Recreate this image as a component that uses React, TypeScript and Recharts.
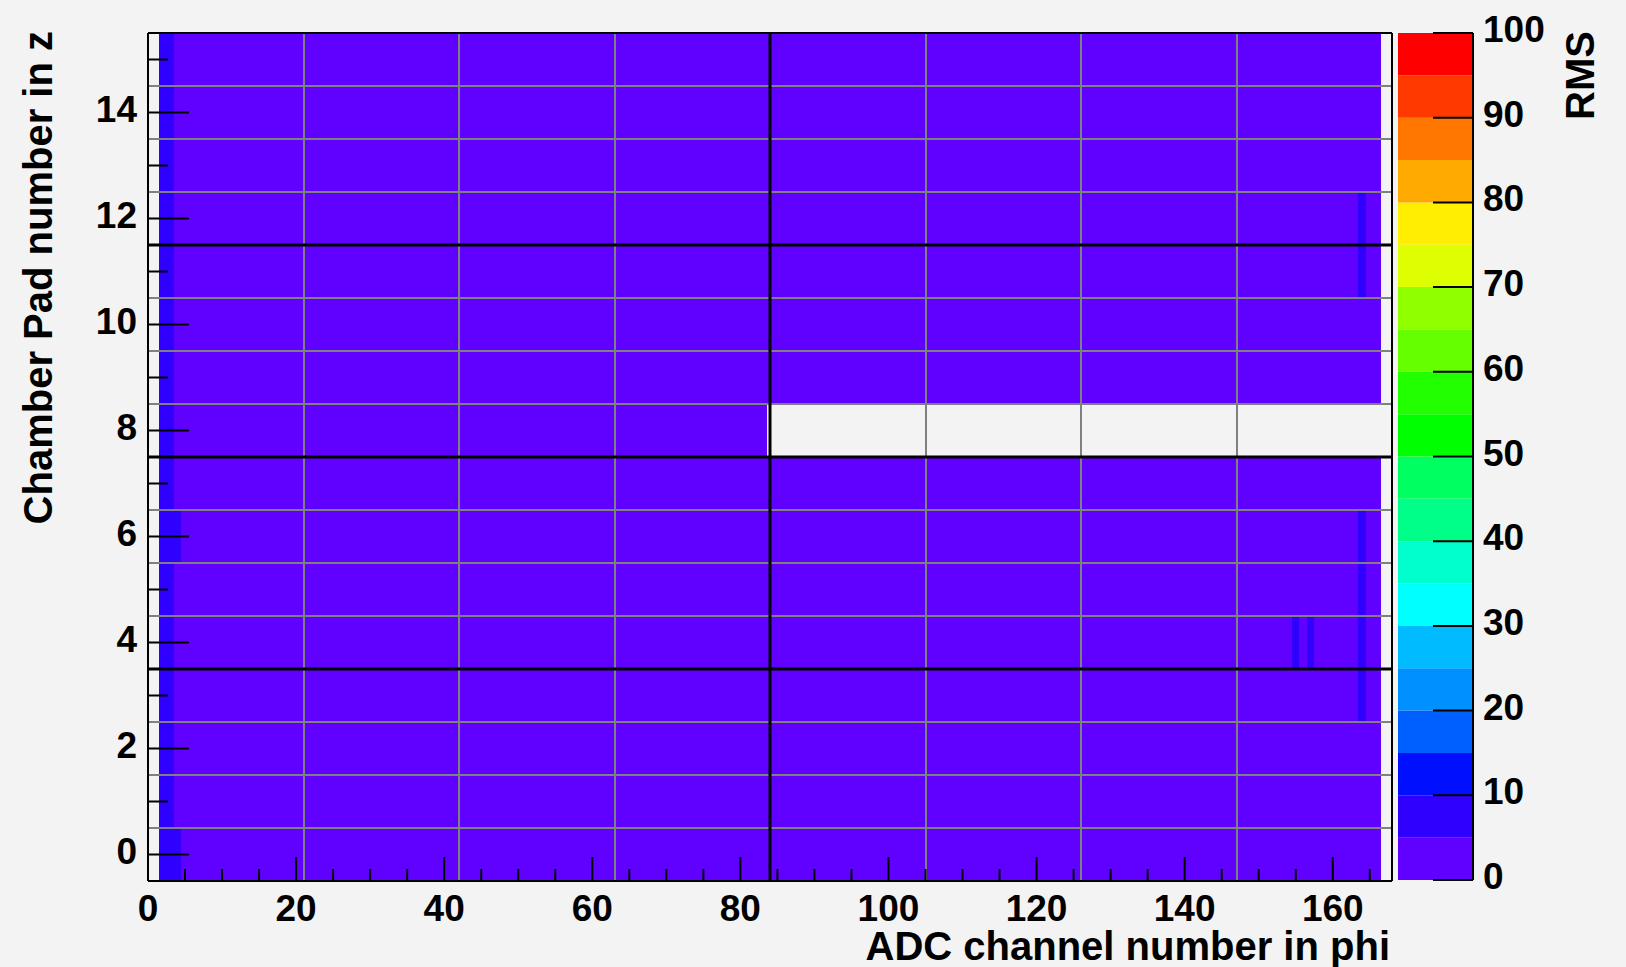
import { ScatterChart, Scatter, XAxis, YAxis, ReferenceLine, BarChart, Bar } from 'recharts';

// page + plot frame geometry (px)
const W = 1626;
const H = 967;
const PLOT = { left: 148, top: 33, right: 1392, bottom: 881 };
const BAR = { left: 1398, right: 1473 };

const FONT = 'Liberation Sans, Arial, Helvetica, sans-serif';
const BG = '#f3f3f3';

// axes
const X_DOMAIN: [number, number] = [0, 168];
const Y_DOMAIN: [number, number] = [-0.5, 15.5];
const xTicks = [0, 5, 10, 15, 20, 25, 30, 35, 40, 45, 50, 55, 60, 65, 70, 75, 80, 85, 90, 95, 100, 105, 110, 115, 120, 125, 130, 135, 140, 145, 150, 155, 160, 165];
const xLabels = [0, 20, 40, 60, 80, 100, 120, 140, 160];
const yTicks = [0, 1, 2, 3, 4, 5, 6, 7, 8, 9, 10, 11, 12, 13, 14, 15];
const yLabels = [0, 2, 4, 6, 8, 10, 12, 14];

// histogram content
const channelRange = [2, 166];
const pads = [0, 1, 2, 3, 4, 5, 6, 7, 8, 9, 10, 11, 12, 13, 14, 15];
const padBaseRms = [3.1, 2.8, 2.9, 2.7, 2.9, 2.8, 3.0, 2.7, 2.8, 2.6, 2.7, 2.8, 2.9, 2.7, 2.8, 2.6];
const noisyColumns = [
  { channel: 2, pads: [0, 1, 2, 3, 4, 5, 6, 7, 8, 9, 10, 11, 12, 13, 14, 15], rms: 7.2 },
  { channel: 3, pads: [0, 1, 2, 3, 4, 5, 6, 7, 8, 9, 10, 11, 12, 13, 14, 15], rms: 6.8 },
  { channel: 4, pads: [0, 6], rms: 6.1 },
  { channel: 155, pads: [4], rms: 6.0 },
  { channel: 157, pads: [4], rms: 5.8 },
  { channel: 164, pads: [3, 4, 5, 6, 11, 12], rms: 6.3 },
];
const deadRanges = [{ pad: 8, from: 84, to: 166 }];

// grid lines drawn over the map
const grayX = [21, 42, 63, 105, 126, 147];
const blackX = [84];
const grayY = [0.5, 1.5, 2.5, 4.5, 5.5, 6.5, 8.5, 9.5, 10.5, 12.5, 13.5, 14.5];
const blackY = [3.5, 7.5, 11.5];

// colour scale
const zTicks = [0, 10, 20, 30, 40, 50, 60, 70, 80, 90, 100];
const bandWidth = 5;
const palette = [
  '#6000ff', '#3000ff', '#0010ff', '#0060ff', '#0090ff',
  '#00bbff', '#00ffff', '#00ffcc', '#00ff88', '#00ff60',
  '#00ff00', '#22ff00', '#66ff00', '#90ff00', '#ddff00',
  '#ffee00', '#ffaa00', '#ff7700', '#ff3a00', '#ff0000',
];

const colorFor = (v: number) => palette[Math.min(palette.length - 1, Math.floor(v / bandWidth))];

const cells: { channel: number; pad: number; rms: number }[] = [];
pads.forEach((pad) => {
  for (let ch = channelRange[0]; ch <= channelRange[1]; ch++) {
    if (deadRanges.some((d) => d.pad === pad && ch >= d.from && ch <= d.to)) continue;
    const hot = noisyColumns.find((c) => c.channel === ch && c.pads.includes(pad));
    cells.push({ channel: ch, pad, rms: hot ? hot.rms : padBaseRms[pad] });
  }
});

const bandRow: Record<string, number | string> = { name: 'rms' };
palette.forEach((_, i) => {
  bandRow['b' + i] = bandWidth;
});

const cellW = (PLOT.right - PLOT.left) / (X_DOMAIN[1] - X_DOMAIN[0]);
const cellH = (PLOT.bottom - PLOT.top) / (Y_DOMAIN[1] - Y_DOMAIN[0]);

const Cell = (props: any) => {
  const { cx, cy, payload } = props;
  if (cx == null || cy == null) return <g />;
  return (
    <rect
      x={cx - cellW / 2 - 0.3}
      y={cy - cellH / 2 - 0.3}
      width={cellW + 0.6}
      height={cellH + 0.6}
      fill={colorFor(payload.rms)}
      shapeRendering="crispEdges"
    />
  );
};

const labelStyle = { fontFamily: FONT, fontWeight: 700, fontSize: 37, fill: '#000' };

const YTick = (props: any) => {
  const { x, y, payload } = props;
  const major = yLabels.includes(payload.value);
  return (
    <g>
      <line x1={x} x2={x + (major ? 41 : 20)} y1={y} y2={y} stroke="#000" strokeWidth={2} />
      {major && (
        <text x={x - 11} y={y + 9} textAnchor="end" {...labelStyle}>
          {payload.value}
        </text>
      )}
    </g>
  );
};

const XTick = (props: any) => {
  const { x, y, payload } = props;
  const major = xLabels.includes(payload.value);
  return (
    <g>
      <line x1={x} x2={x} y1={y} y2={y - (major ? 24 : 12)} stroke="#000" strokeWidth={2} />
      {major && (
        <text x={x} y={y + 40} textAnchor="middle" {...labelStyle}>
          {payload.value}
        </text>
      )}
    </g>
  );
};

const ZTick = (props: any) => {
  const { x, y, payload } = props;
  return (
    <g>
      <line x1={x - 40} x2={x} y1={y} y2={y} stroke="#000" strokeWidth={2} />
      <text x={x + 10} y={y + 9} textAnchor="start" {...labelStyle}>
        {payload.value}
      </text>
    </g>
  );
};

export default function App() {
  return (
    <div style={{ position: 'absolute', left: 0, top: 0, width: W, height: H, background: BG, overflow: 'hidden' }}>
      <div style={{ position: 'absolute', left: 0, top: 0 }}>
        <ScatterChart
          width={W}
          height={H}
          margin={{ top: PLOT.top, left: 0, right: W - PLOT.right, bottom: 0 }}
        >
          <XAxis
            type="number"
            dataKey="channel"
            domain={X_DOMAIN}
            allowDataOverflow
            ticks={xTicks}
            interval={0}
            height={H - PLOT.bottom}
            tickSize={0}
            tickMargin={0}
            tickLine={false}
            axisLine={{ stroke: '#000', strokeWidth: 2 }}
            tick={<XTick />}
            zIndex={700}
          />
          <YAxis
            type="number"
            dataKey="pad"
            domain={Y_DOMAIN}
            allowDataOverflow
            ticks={yTicks}
            interval={0}
            width={PLOT.left}
            tickSize={0}
            tickMargin={0}
            tickLine={false}
            axisLine={{ stroke: '#000', strokeWidth: 2 }}
            tick={<YTick />}
            zIndex={700}
          />
          <Scatter data={cells} shape={<Cell />} isAnimationActive={false} zIndex={100} />
          {grayX.map((v) => (
            <ReferenceLine key={'gx' + v} x={v} stroke="#808080" strokeWidth={2} shapeRendering="crispEdges" zIndex={650} />
          ))}
          {grayY.map((v) => (
            <ReferenceLine key={'gy' + v} y={v} stroke="#808080" strokeWidth={2} shapeRendering="crispEdges" zIndex={650} />
          ))}
          {blackX.map((v) => (
            <ReferenceLine key={'bx' + v} x={v} stroke="#000" strokeWidth={3} zIndex={660} />
          ))}
          {blackY.map((v) => (
            <ReferenceLine key={'by' + v} y={v} stroke="#000" strokeWidth={3} zIndex={660} />
          ))}
          <ReferenceLine y={Y_DOMAIN[1]} stroke="#000" strokeWidth={2} zIndex={660} />
          <ReferenceLine x={X_DOMAIN[1]} stroke="#000" strokeWidth={2} zIndex={660} />
        </ScatterChart>
      </div>

      <div style={{ position: 'absolute', left: 0, top: 0 }}>
        <BarChart
          width={W}
          height={H}
          data={[bandRow]}
          barCategoryGap={0}
          barGap={0}
          margin={{ top: PLOT.top, left: BAR.left, right: 0, bottom: H - PLOT.bottom + 1 }}
        >
          <XAxis dataKey="name" hide />
          <YAxis
            orientation="right"
            type="number"
            domain={[0, 100]}
            ticks={zTicks}
            interval={0}
            width={W - BAR.right}
            tickSize={0}
            tickMargin={0}
            tickLine={false}
            axisLine={{ stroke: '#000', strokeWidth: 2 }}
            tick={<ZTick />}
            zIndex={700}
          />
          {palette.map((c, i) => (
            <Bar key={i} dataKey={'b' + i} stackId="z" fill={c} isAnimationActive={false} zIndex={100} />
          ))}
        </BarChart>
      </div>

      <svg width={W} height={H} style={{ position: 'absolute', left: 0, top: 0, pointerEvents: 'none' }}>
        <text x={1390} y={960} textAnchor="end" fontFamily={FONT} fontWeight={700} fontSize={40}>
          ADC channel number in phi
        </text>
        <text x={52} y={31} textAnchor="end" transform="rotate(-90 52 31)" fontFamily={FONT} fontWeight={700} fontSize={40}>
          Chamber Pad number in z
        </text>
        <text x={1594} y={31} textAnchor="end" transform="rotate(-90 1594 31)" fontFamily={FONT} fontWeight={700} fontSize={40}>
          RMS
        </text>
      </svg>
    </div>
  );
}
